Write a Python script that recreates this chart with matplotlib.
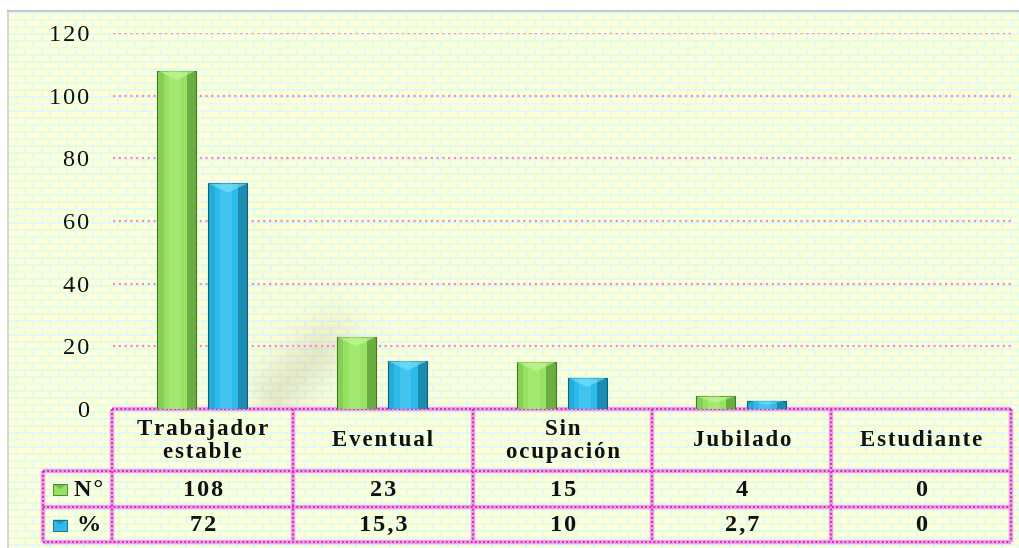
import numpy as np
import matplotlib
matplotlib.use('Agg')
import matplotlib.pyplot as plt
from matplotlib.patches import Rectangle, Polygon

categorias = ['Trabajador\nestable', 'Eventual', 'Sin\nocupación', 'Jubilado', 'Estudiante']
n_valores = [108, 23, 15, 4, 0]
pct_valores = [72, 15.3, 10, 2.7, 0]
etiquetas_pct = ['72', '15,3', '10', '2,7', '0']
yticks = [0, 20, 40, 60, 80, 100, 120]

W, H = 1019, 548
VERDE, VERDE_OSC, VERDE_CLARO = '#96E262', '#3F7A22', '#C8FA9E'
AZUL, AZUL_OSC, AZUL_CLARO = '#2CBBEA', '#0F5F7C', '#80E4FB'
ROSA, ROSA_OSC = '#F59BE8', '#B52DA4'
HS = '\u200a'  # espacio fino para imitar el espaciado entre letras

plt.rcParams['font.family'] = ['Liberation Serif']

def espaciar(s):
    return '\n'.join(HS.join(linea) for linea in s.split('\n'))

fig = plt.figure(figsize=(W / 100, H / 100), dpi=100)

def fx(px):
    return px / W

def fy(py):
    return 1 - py / H

# fondo de ladrillos
img = np.ones((H, W, 3))
mortero = np.array([0xE0, 0xFA, 0xF4]) / 255
ladrillo = np.array([0xFF, 0xFF, 0xD4]) / 255
img[:, :] = mortero
yy, xx = np.mgrid[0:H, 0:W]
fila = yy // 7
dx = (xx + (fila % 2) * 8) % 17
dy = yy % 7
img[(dx < 15) & (dy < 5)] = ladrillo
# sombra difusa detras de las barras altas
u = ((xx - 250) - (yy - 405)) / np.sqrt(2)
v = ((xx - 250) + (yy - 405)) / np.sqrt(2)
alfa = 0.2 * np.exp(-((v - 10) / 28) ** 2) * np.clip(u / 20, 0, 1) * np.clip((150 - u) / 60, 0, 1)
alfa[(xx < 249) | (yy > 408)] = 0
sombra_col = np.array([0.62, 0.58, 0.45])
img = img * (1 - alfa[..., None]) + sombra_col * alfa[..., None]
img[:11, :] = 1.0
img[:, :8] = 1.0

bg = fig.add_axes([0, 0, 1, 1])
bg.imshow(img, aspect='auto', extent=[0, W, H, 0], interpolation='nearest')
bg.plot([8, W], [10.5, 10.5], color='#C8C8C8', lw=1.5)
bg.plot([8.5, 8.5], [10, H], color='#D0D0D0', lw=1.2)
bg.set_xlim(0, W); bg.set_ylim(H, 0)
bg.axis('off')

# eje del grafico
x0, x1 = 112.5, 1011
ytop, ybot = 33, 409
ax = fig.add_axes([fx(x0), fy(ybot), fx(x1) - fx(x0), fy(ytop) - fy(ybot)])
ax.patch.set_alpha(0)
ax.set_xlim(-0.5, 4.5)
ax.set_ylim(0, 120)
for s in ax.spines.values():
    s.set_visible(False)
ax.set_xticks([])
ax.set_yticks(yticks)
ax.set_yticklabels([espaciar(str(t)) for t in yticks])
ax.tick_params(axis='y', length=0, pad=17, labelsize=17.5, labelcolor='#111111')
for y in yticks[1:]:
    ax.axhline(y, color='#F28CC6', lw=1.6, ls=(0, (1, 1.6)), zorder=1)

x = np.arange(len(categorias))
w = 0.217
off = 0.142

def barras(pos, vals, c, cos, ccl):
    ax.bar(pos, vals, w, color=c, edgecolor=cos, lw=0.8, zorder=3)
    ax.bar(pos + w * 0.38, vals, w * 0.24, color=cos, alpha=0.5, lw=0, zorder=4)
    ax.bar(pos - w * 0.42, vals, w * 0.16, color=cos, alpha=0.18, lw=0, zorder=4)
    ax.bar(pos - w * 0.05, vals, w * 0.3, color=ccl, alpha=0.25, lw=0, zorder=4)
    for p, v in zip(pos, vals):
        if v > 0:
            cap = min(3.0, v * 0.5)
            ax.add_patch(Polygon([[p - w / 2, v], [p + w / 2, v], [p, v - cap]],
                                 closed=True, facecolor=ccl, alpha=0.6, lw=0, zorder=5))

barras(x - off, n_valores, VERDE, VERDE_OSC, VERDE_CLARO)
barras(x + off, pct_valores, AZUL, AZUL_OSC, AZUL_CLARO)

# tabla de datos
cols = [112.5, 293, 473, 652.5, 831, 1011]
y_h, y_n, y_p, y_b = 409, 471, 507, 542
izq = 43

def linea(xs, ys):
    bg.plot(xs, ys, color=ROSA, lw=3.2, solid_capstyle='butt', zorder=6)
    bg.plot(xs, ys, color=ROSA_OSC, lw=1.3, ls=(0, (1, 1.3)), zorder=7)

linea([x0, x1], [y_h, y_h])
for yl in (y_n, y_p, y_b):
    linea([izq, x1], [yl, yl])
for c in cols:
    linea([c, c], [y_h, y_b])
linea([izq, izq], [y_n, y_b])

fuente = dict(fontweight='bold', ha='center', va='center', color='#111111', zorder=8)
for i, cat in enumerate(categorias):
    cx = (cols[i] + cols[i + 1]) / 2
    bg.text(cx, (y_h + y_n) / 2 + 1, espaciar(cat), fontsize=16.5, linespacing=1.12, **fuente)
    bg.text(cx, (y_n + y_p) / 2 + 1, espaciar(str(n_valores[i])), fontsize=17.5, **fuente)
    bg.text(cx, (y_p + y_b) / 2 + 1, espaciar(etiquetas_pct[i]), fontsize=17.5, **fuente)

# leyenda dentro de la tabla
for yc, c, cos, lab in [((y_n + y_p) / 2, VERDE, VERDE_OSC, 'N°'), ((y_p + y_b) / 2, AZUL, AZUL_OSC, '%')]:
    bg.add_patch(Rectangle((53, yc - 5), 14, 11, facecolor=c, edgecolor=cos, lw=0.6, zorder=8))
    bg.add_patch(Polygon([[53, yc - 5], [67, yc - 5], [60, yc]], closed=True,
                         facecolor=cos, alpha=0.35, lw=0, zorder=9))
    bg.text(89, yc + 1, espaciar(lab), fontsize=17.5, **fuente)

plt.savefig('out.png', dpi=100)
plt.close()
